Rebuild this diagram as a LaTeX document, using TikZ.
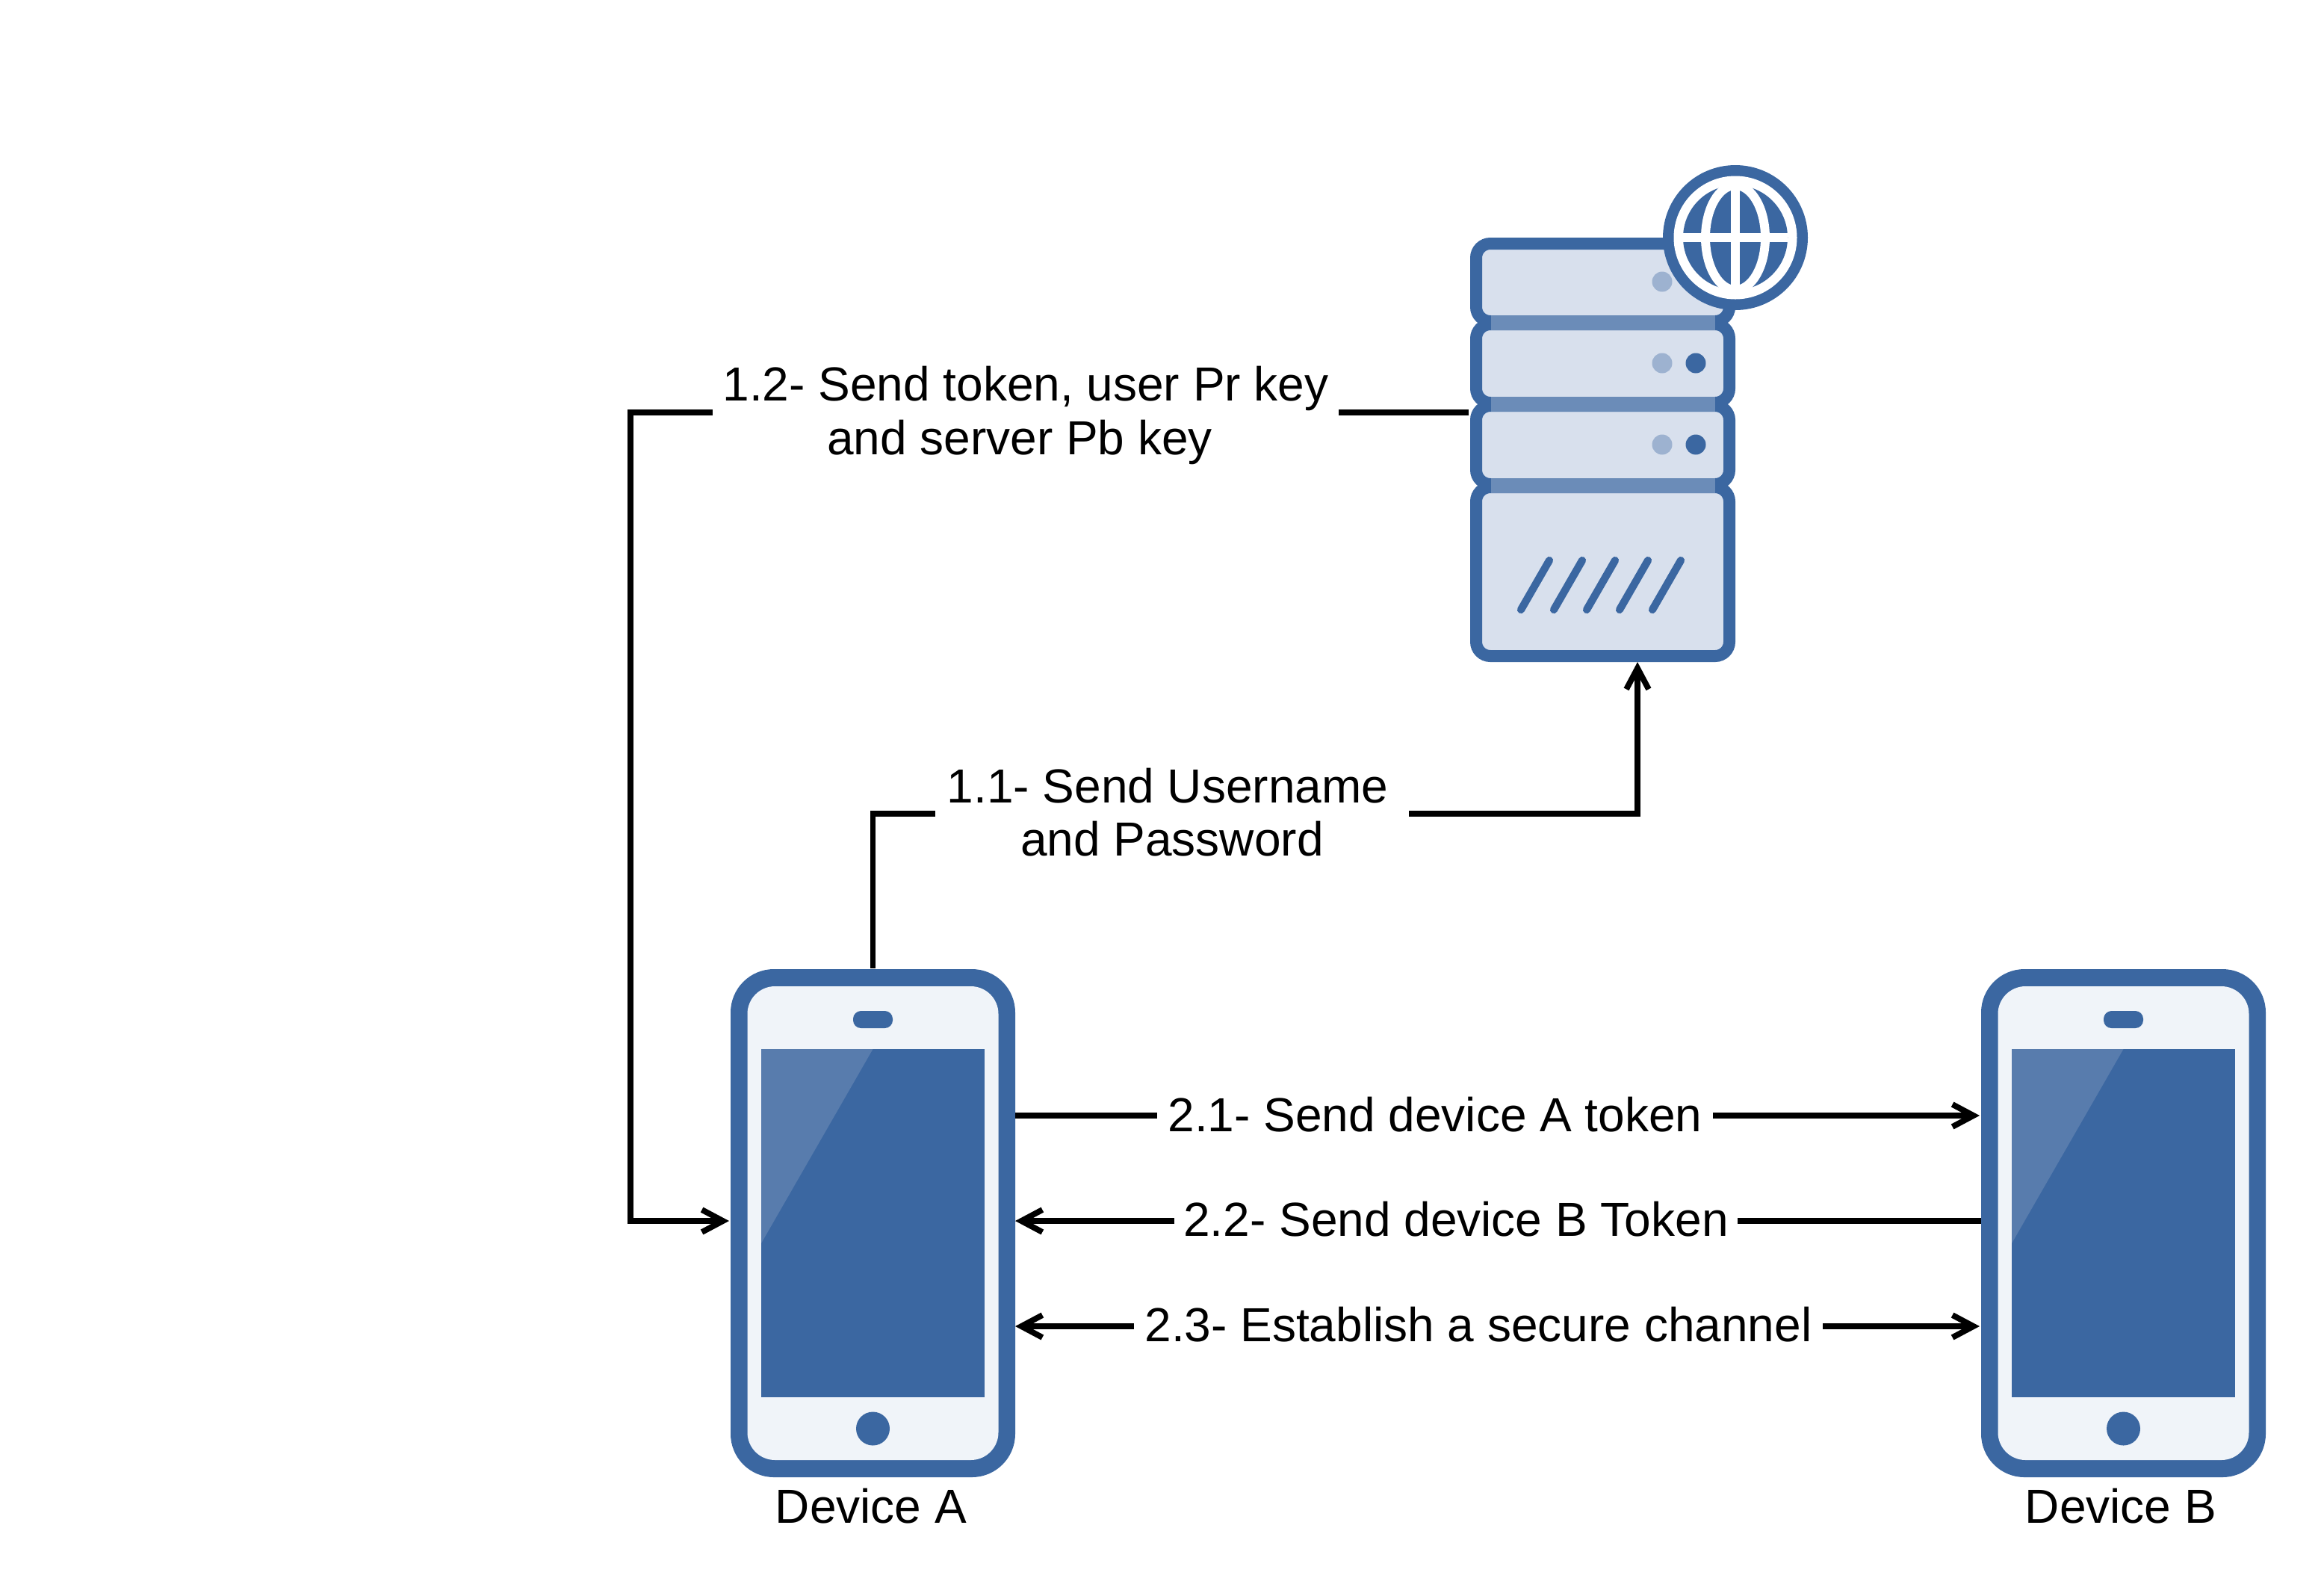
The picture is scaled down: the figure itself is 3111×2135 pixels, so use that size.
\documentclass[tikz,border=0pt]{standalone}
\usepackage{fontspec}
\setmainfont{Liberation Sans}
\usetikzlibrary{arrows.meta}
\definecolor{iconblue}{RGB}{59,103,161}
\definecolor{serverfill}{RGB}{216,224,237}
\definecolor{serverstrip}{RGB}{107,140,184}
\definecolor{serverled}{RGB}{157,178,208}
\definecolor{phonefill}{RGB}{240,244,249}
\definecolor{phoneglare}{RGB}{88,124,173}
\tikzset{
  conn/.style={line width=2.2pt, black},
  tip/.style={-{Straight Barb[length=8pt,width=8.5pt,line width=2.2pt]}},
  lbl/.style={fill=white, font=\fontsize{18.2}{20.3}\selectfont, align=center, inner sep=0pt, minimum height=14pt},
  devcap/.style={font=\fontsize{18.2}{20.3}\selectfont, inner sep=0pt},
  box/.style={inner sep=0pt, rectangle},
  shelf/.style={draw=iconblue, line width=4.55pt, fill=serverfill, rounded corners=5.4pt},
  phone/.pic={
    \fill[iconblue, rounded corners=16.5pt] (-190.5,-340) rectangle (190.5,340);
    \fill[phonefill, rounded corners=10.5pt] (-168,-317) rectangle (168,317);
    \fill[iconblue] (-149.5,-233) rectangle (149.5,233);
    \fill[phoneglare] (-149.5,-233) -- (0,-233) -- (-149.5,27) -- cycle;
    \fill[iconblue, rounded corners=3pt] (-26.5,-284) rectangle (26.5,-261);
    \fill[iconblue] (0,275) circle (22.5);
  }
}
\begin{document}
\begin{tikzpicture}[x=0.01cm, y=-0.01cm]
\useasboundingbox (0,0) rectangle (3111,2135);
% server
\draw[shelf] (1976,326) rectangle (2315,430);
\draw[shelf] (1976,434) rectangle (2315,539);
\draw[shelf] (1976,543) rectangle (2315,648);
\draw[shelf] (1976,652) rectangle (2315,878);
\fill[serverstrip] (1996,422) rectangle (2296,442);
\fill[serverstrip] (1996,531) rectangle (2296,551);
\fill[serverstrip] (1996,640) rectangle (2296,660);
\foreach \y in {377,486,595} \fill[serverled] (2225,\y) circle (13.5);
\foreach \y in {486,595} \fill[iconblue] (2270,\y) circle (13.5);
\foreach \x in {0,44,88,132,176}
  \draw[iconblue, line width=2.9pt, line cap=round] (2036+\x,816) -- (2074+\x,750);
\node[box, minimum width=3.55cm, minimum height=5.68cm] (server) at (2145.5,602) {};
% globe
\fill[iconblue] (2323,318) circle (97);
\fill[white] (2323,318) circle (82.5);
\fill[iconblue] (2323,318) circle (70);
\draw[white, line width=3.4pt] (2323,318) ellipse (40 and 70);
\draw[white, line width=3.4pt] (2323,238) -- (2323,398);
\draw[white, line width=3.4pt] (2253,318) -- (2393,318);
% devices
\pic at (1168.5,1637) {phone};
\pic at (2842.5,1637) {phone};
\node[box, minimum width=3.81cm, minimum height=6.8cm] (devA) at (1168.5,1637) {};
\node[box, minimum width=3.81cm, minimum height=6.8cm] (devB) at (2842.5,1637) {};
\node[devcap] (capA) at (1166,2016) {Device A};
\node[devcap] (capB) at (2839,2016) {Device B};
% labels
\node[lbl, minimum width=6.33cm] (m11) at (1569,1087) {1.1- Send Username\hspace{0.12cm}\null\\and Password};
\node[lbl, minimum width=8.37cm] (m12) at (1373,556) {1.2- Send token, user Pr key\\and server Pb key\hspace{0.16cm}\null};
\node[lbl, minimum width=7.43cm] (m21) at (1921,1492) {2.1- Send device A token};
\node[lbl, minimum width=7.52cm] (m22) at (1949,1632) {2.2- Send device B Token};
\node[lbl, minimum width=9.21cm] (m23) at (1979,1773) {2.3- Establish a secure channel};
% connectors
\coordinate (srvIn) at (2192,886);
\coordinate (srvOut) at (1966,552);
\coordinate (lft) at (844,552);
\coordinate (aLeft) at (976,1634);
\coordinate (aRow1) at (1359,1493);
\coordinate (aRow2) at (1359,1634);
\coordinate (aRow3) at (1359,1775);
\coordinate (bRow1) at (2650,1493);
\coordinate (bRow2) at (2652,1634);
\coordinate (bRow3) at (2650,1775);
\draw[conn] (devA.north) |- (m11.west |- 0,1089);
\draw[conn, tip] (m11.east |- 0,1089) -| (srvIn);
\draw[conn] (srvOut) -- (m12.east |- srvOut);
\draw[conn, tip] (m12.west |- srvOut) -- (lft) |- (aLeft);
\draw[conn] (aRow1) -- (m21.west |- aRow1);
\draw[conn, tip] (m21.east |- bRow1) -- (bRow1);
\draw[conn] (bRow2) -- (m22.east |- bRow2);
\draw[conn, tip] (m22.west |- aRow2) -- (aRow2);
\draw[conn, tip] (m23.west |- aRow3) -- (aRow3);
\draw[conn, tip] (m23.east |- bRow3) -- (bRow3);
\end{tikzpicture}
\end{document}
